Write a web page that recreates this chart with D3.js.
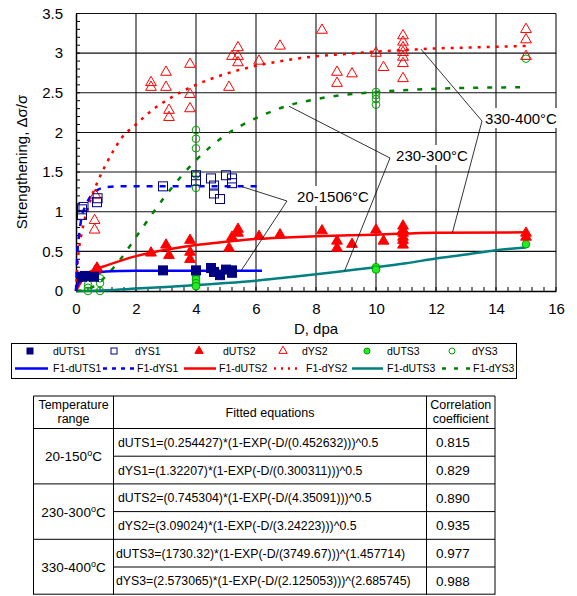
<!DOCTYPE html>
<html>
<head>
<meta charset="utf-8">
<script src="https://cdn.jsdelivr.net/npm/d3@7"></script>
<style>
  body { margin: 0; background: #fff; }
  text { font-family: "Liberation Sans", Arial, sans-serif; }
</style>
</head>
<body>
<svg id="chart"></svg>
<script>
// Measured points [D, value]
const dUTS1 = [[0.2,0.18],[0.3,0.19],[0.6,0.18],[2.9,0.26],[4.0,0.26],[4.5,0.29],[4.6,0.24],[4.8,0.2],[5.0,0.27],[5.2,0.26],[5.2,0.23]];
const dYS1 = [[0.2,0.96],[0.2,1.03],[0.25,1.06],[0.7,1.12],[0.72,1.17],[2.9,1.32],[4.0,1.46],[4.0,1.39],[4.5,1.42],[4.6,1.33],[4.6,1.23],[4.8,1.16],[5.0,1.46],[5.2,1.42],[5.2,1.36]];
const dUTS2 = [[0.65,0.26],[0.7,0.29],[2.5,0.48],[3.0,0.58],[3.1,0.45],[3.8,0.64],[3.8,0.49],[3.8,0.4],[5.1,0.54],[5.2,0.68],[5.4,0.78],[5.4,0.73],[6.1,0.69],[6.8,0.71],[8.2,0.76],[8.7,0.63],[8.7,0.54],[9.2,0.59],[10.0,0.77],[10.25,0.63],[10.9,0.82],[10.9,0.77],[10.9,0.73],[10.9,0.68],[10.9,0.64],[10.9,0.58],[15.0,0.73],[15.0,0.68]];
const dYS2 = [[0.65,1.21],[0.62,0.89],[0.62,0.77],[2.5,2.63],[2.5,2.57],[3.0,2.76],[3.0,2.57],[3.1,2.28],[3.1,2.19],[3.8,2.86],[3.8,2.48],[3.8,2.3],[5.1,2.57],[5.2,2.96],[5.4,3.07],[5.4,2.96],[5.4,2.88],[6.1,2.9],[6.8,3.09],[8.2,3.29],[8.7,2.76],[8.7,2.62],[9.2,2.74],[10.0,3.0],[10.25,2.82],[10.9,3.22],[10.9,3.14],[10.9,3.07],[10.9,3.01],[10.9,2.95],[10.9,2.87],[10.9,2.68],[15.0,3.3],[15.0,3.17],[15.0,2.96]];
const dUTS3 = [[4,0.26],[4,0.2],[4,0.15],[4,0.1],[4,0.06],[10,0.3],[10,0.27],[15,0.59]];
const dYS3 = [[0.4,0.08],[0.4,0.04],[0.4,0.0],[0.8,0.16],[0.8,0.1],[0.8,0.0],[4,2.03],[4,1.92],[4,1.8],[4,1.47],[4,1.3],[10,2.51],[10,2.47],[10,2.42],[10,2.35],[15,2.93]];

// Fitted curves [D, value]
const fitUTS1 = [[0,0],[0.05,0.08],[0.1,0.11],[0.2,0.15],[0.3,0.18],[0.5,0.21],[0.7,0.23],[1,0.245],[1.5,0.252],[2,0.254],[6.2,0.254]];
const fitYS1 = [[0,0],[0.05,0.5],[0.1,0.7],[0.2,0.95],[0.3,1.06],[0.5,1.2],[0.7,1.27],[1,1.31],[1.5,1.32],[6.1,1.32]];
const fitUTS2 = [[0,0],[0.3,0.19],[0.7,0.28],[1,0.32],[2,0.44],[3,0.52],[4,0.58],[5,0.62],[6,0.655],[7,0.675],[8,0.69],[10,0.71],[12,0.735],[15,0.74]];
const fitYS2 = [[0,0],[0.05,0.35],[0.1,0.53],[0.2,0.75],[0.3,0.92],[0.5,1.17],[0.7,1.36],[1,1.6],[1.25,1.77],[1.5,1.92],[2,2.1],[2.5,2.27],[3,2.4],[3.5,2.51],[4,2.6],[5,2.74],[6,2.84],[7,2.91],[8,2.96],[9,2.99],[10,3.02],[11,3.04],[12,3.06],[13,3.07],[14,3.08],[15,3.09]];
const fitUTS3 = [[0,0],[1,0.01],[2,0.03],[3,0.05],[4,0.075],[5,0.1],[6,0.13],[7,0.17],[8,0.21],[9,0.255],[10,0.3],[11,0.35],[12,0.41],[13,0.46],[14,0.515],[15,0.55]];
const fitYS3 = [[0,0],[0.5,0.04],[1,0.19],[1.5,0.41],[2,0.68],[3,1.21],[4,1.65],[5,1.97],[6,2.18],[7,2.33],[8,2.42],[10,2.51],[12,2.55],[14.8,2.57]];

const xTicks = [0, 2, 4, 6, 8, 10, 12, 14, 16];
const yTicks = [0, 0.5, 1, 1.5, 2, 2.5, 3, 3.5];

const tempRanges = ["20-150", "230-300", "330-400"];
const equations = [
  "dUTS1=(0.254427)*(1-EXP(-D/(0.452632)))^0.5",
  "dYS1=(1.32207)*(1-EXP(-D/(0.300311)))^0.5",
  "dUTS2=(0.745304)*(1-EXP(-D/(4.35091)))^0.5",
  "dYS2=(3.09024)*(1-EXP(-D/(3.24223)))^0.5",
  "dUTS3=(1730.32)*(1-EXP(-D/(3749.67)))^(1.457714)",
  "dYS3=(2.573065)*(1-EXP(-D/(2.125053)))^(2.685745)"
];
const coefficients = ["0.815", "0.829", "0.890", "0.935", "0.977", "0.988"];

const width = 577, height = 596;
const svg = d3.select("#chart").attr("width", width).attr("height", height);

const x = d3.scaleLinear().domain([0, 16]).range([76, 556]);
const y = d3.scaleLinear().domain([0, 3.5]).range([291, 13.5]);

// Grid
const grid = svg.append("g").attr("stroke", "#111").attr("stroke-width", 1.1);
grid.selectAll(".gx").data(xTicks.slice(1)).join("line")
  .attr("x1", d => x(d)).attr("x2", d => x(d))
  .attr("y1", y(0)).attr("y2", y(3.5));
grid.selectAll(".gy").data(yTicks.slice(1)).join("line")
  .attr("x1", x(0)).attr("x2", x(16))
  .attr("y1", d => y(d)).attr("y2", d => y(d));

// Axes
const xAxis = d3.axisBottom(x).tickValues(xTicks).tickSize(0).tickPadding(12);
const yAxis = d3.axisLeft(y).tickValues(yTicks).tickSize(0).tickPadding(13).tickFormat(d3.format("~g"));
const gx = svg.append("g").attr("transform", `translate(0,${y(0)})`).call(xAxis);
const gy = svg.append("g").attr("transform", `translate(${x(0)},0)`).call(yAxis);
[gx, gy].forEach(g => {
  g.select(".domain").attr("stroke", "#000").attr("stroke-width", 1.5);
  g.selectAll("text").attr("font-size", 15).attr("fill", "#000")
    .style("font-family", "Liberation Sans, Arial, sans-serif");
});
// inner minor ticks
svg.append("g").selectAll("line").data(d3.range(0, 16.01, 0.4)).join("line")
  .attr("x1", d => x(d)).attr("x2", d => x(d))
  .attr("y1", y(0)).attr("y2", y(0) - 4).attr("stroke", "#000");
svg.append("g").selectAll("line").data(d3.range(0, 3.51, 0.1)).join("line")
  .attr("y1", d => y(d)).attr("y2", d => y(d))
  .attr("x1", x(0)).attr("x2", x(0) + 4).attr("stroke", "#000");

// Axis titles
svg.append("text").attr("x", 316).attr("y", 334).attr("text-anchor", "middle")
  .attr("font-size", 15).text("D, dpa");
svg.append("text").attr("transform", "translate(27,162) rotate(-90)")
  .attr("text-anchor", "middle").attr("font-size", 15).text("Strengthening, Δσ/σ");

// Fit lines
const line = d3.line().x(d => x(d[0])).y(d => y(d[1])).curve(d3.curveMonotoneX);
const fits = [
  { data: fitUTS3, color: "#008080", width: 2.5, dash: null },
  { data: fitYS3, color: "#008000", width: 2.5, dash: "5,9" },
  { data: fitYS2, color: "#ff0000", width: 2.5, dash: "3,6" },
  { data: fitYS1, color: "#0000ff", width: 2.5, dash: "6,7" },
  { data: fitUTS2, color: "#ff0000", width: 2.5, dash: null },
  { data: fitUTS1, color: "#0000ff", width: 2.5, dash: null }
];
svg.append("g").selectAll("path").data(fits).join("path")
  .attr("d", d => line(d.data))
  .attr("fill", "none")
  .attr("stroke", d => d.color)
  .attr("stroke-width", d => d.width)
  .attr("stroke-dasharray", d => d.dash);

// Markers
const triangle = d3.symbol().type(d3.symbolTriangle).size(50);
function squares(data, filled) {
  svg.append("g").selectAll("rect").data(data).join("rect")
    .attr("x", d => x(d[0]) - 4.5).attr("y", d => y(d[1]) - 4.5)
    .attr("width", 9).attr("height", 9)
    .attr("fill", filled ? "#000080" : "none")
    .attr("stroke", "#000080").attr("stroke-width", 1);
}
function triangles(data, filled) {
  svg.append("g").selectAll("path").data(data).join("path")
    .attr("d", triangle)
    .attr("transform", d => `translate(${x(d[0])},${y(d[1])})`)
    .attr("fill", filled ? "#ff0000" : "none")
    .attr("stroke", "#ff0000").attr("stroke-width", 1);
}
function circles(data, filled) {
  svg.append("g").selectAll("circle").data(data).join("circle")
    .attr("cx", d => x(d[0])).attr("cy", d => y(d[1])).attr("r", 3.8)
    .attr("fill", filled ? "#22ee22" : "none")
    .attr("stroke", "#00a000").attr("stroke-width", 1);
}
circles(dYS3, false);
triangles(dYS2, false);
squares(dYS1, false);
circles(dUTS3, true);
triangles(dUTS2, true);
squares(dUTS1, true);

// Annotations
const notes = [
  { label: "20-1506°C", cx: 333, cy: 196, w: 76, lines: [[287, 201, x(5.5), y(1.32)], [287, 201, x(5.5), y(0.254)]] },
  { label: "230-300°C", cx: 432, cy: 155, w: 76, lines: [[390, 158, x(7.1), y(2.33)], [390, 158, x(8.95), y(0.25)]] },
  { label: "330-400°C", cx: 521, cy: 118, w: 76, lines: [[482, 121, x(11.5), y(3.05)], [482, 121, x(12.55), y(0.74)]] }
];
notes.forEach(n => {
  const g = svg.append("g");
  g.selectAll("line").data(n.lines).join("line")
    .attr("x1", d => d[0]).attr("y1", d => d[1])
    .attr("x2", d => d[2]).attr("y2", d => d[3])
    .attr("stroke", "#000").attr("stroke-width", 0.8);
  g.append("rect").attr("x", n.cx - n.w / 2).attr("y", n.cy - 10)
    .attr("width", n.w).attr("height", 20).attr("fill", "#fff");
  g.append("text").attr("x", n.cx).attr("y", n.cy + 5.5)
    .attr("text-anchor", "middle").attr("font-size", 15).text(n.label);
});

// Legend
const legend = svg.append("g");
legend.append("rect").attr("x", 11.5).attr("y", 343.5).attr("width", 505).attr("height", 35)
  .attr("fill", "#fff").attr("stroke", "#000");
const markerItems = [
  { name: "dUTS1", mx: 30, tx: 53, kind: "sq", filled: true },
  { name: "dYS1", mx: 114, tx: 135, kind: "sq", filled: false },
  { name: "dUTS2", mx: 199, tx: 223, kind: "tri", filled: true },
  { name: "dYS2", mx: 283, tx: 302, kind: "tri", filled: false },
  { name: "dUTS3", mx: 367, tx: 387, kind: "circ", filled: true },
  { name: "dYS3", mx: 452, tx: 472, kind: "circ", filled: false }
];
markerItems.forEach(m => {
  const cy = 351;
  if (m.kind === "sq") {
    legend.append("rect").attr("x", m.mx - 3).attr("y", cy - 3).attr("width", 6).attr("height", 6)
      .attr("fill", m.filled ? "#000080" : "none").attr("stroke", "#000080");
  } else if (m.kind === "tri") {
    legend.append("path").attr("d", d3.symbol().type(d3.symbolTriangle).size(30)())
      .attr("transform", `translate(${m.mx},${cy})`)
      .attr("fill", m.filled ? "#ff0000" : "none").attr("stroke", "#ff0000");
  } else {
    legend.append("circle").attr("cx", m.mx).attr("cy", cy).attr("r", 3)
      .attr("fill", m.filled ? "#22ee22" : "none").attr("stroke", "#00a000");
  }
  legend.append("text").attr("x", m.tx).attr("y", cy + 3.5).attr("font-size", 10.5).text(m.name);
});
const lineItems = [
  { name: "F1-dUTS1", x1: 15, x2: 48, tx: 53, color: "#0000ff", dash: null },
  { name: "F1-dYS1", x1: 103, x2: 134, tx: 137, color: "#0000ff", dash: "4,5" },
  { name: "F1-dUTS2", x1: 184, x2: 216, tx: 219, color: "#ff0000", dash: null },
  { name: "F1-dYS2", x1: 274, x2: 302, tx: 306, color: "#ff0000", dash: "2,5" },
  { name: "F1-dUTS3", x1: 352, x2: 383, tx: 387, color: "#008080", dash: null },
  { name: "F1-dYS3", x1: 442, x2: 471, tx: 473, color: "#008000", dash: "4,8" }
];
lineItems.forEach(l => {
  const cy = 368.5;
  legend.append("line").attr("x1", l.x1).attr("x2", l.x2).attr("y1", cy).attr("y2", cy)
    .attr("stroke", l.color).attr("stroke-width", 2.5).attr("stroke-dasharray", l.dash);
  legend.append("text").attr("x", l.tx).attr("y", cy + 3.5).attr("font-size", 10.5).text(l.name);
});

// Table
const table = svg.append("g");
const colX = [33.5, 113.5, 426.5, 495];
const headTop = 396, headBottom = 428.5, rowH = 27.7;
const rowY = i => headBottom + i * rowH;
const border = (x1, y1, x2, y2) => table.append("line")
  .attr("x1", x1).attr("y1", y1).attr("x2", x2).attr("y2", y2)
  .attr("stroke", "#000").attr("stroke-width", 1);
colX.forEach(cx => border(cx, headTop, cx, rowY(6)));
border(colX[0], headTop, colX[3], headTop);
border(colX[0], rowY(6) - 0.5, colX[3], rowY(6) - 0.5);
for (let i = 0; i < 6; i++) {
  border(i % 2 === 0 ? colX[0] : colX[1], rowY(i), colX[3], rowY(i));
}
const headerText = (cx, lines) => lines.forEach((t, i) =>
  table.append("text").attr("x", cx).attr("y", lines.length === 1 ? 417 : 409 + i * 14)
    .attr("text-anchor", "middle").attr("font-size", 12.5).text(t));
headerText((colX[0] + colX[1]) / 2, ["Temperature", "range"]);
headerText((colX[1] + colX[2]) / 2, ["Fitted equations"]);
headerText((colX[2] + colX[3]) / 2, ["Correlation", "coefficient"]);
tempRanges.forEach((t, i) => {
  const txt = table.append("text").attr("x", (colX[0] + colX[1]) / 2)
    .attr("y", rowY(2 * i + 1) + 5).attr("text-anchor", "middle").attr("font-size", 13.5);
  txt.append("tspan").text(t);
  txt.append("tspan").attr("dy", -5).attr("font-size", 9).text("o");
  txt.append("tspan").attr("dy", 5).text("C");
});
equations.forEach((e, i) => {
  table.append("text").attr("x", i >= 4 ? 116 : 118).attr("y", rowY(i) + rowH / 2 + 4.5)
    .attr("font-size", 12.3).text(e);
});
coefficients.forEach((c, i) => {
  table.append("text").attr("x", 453).attr("y", rowY(i) + rowH / 2 + 5)
    .attr("text-anchor", "middle").attr("font-size", 13.5).text(c);
});
</script>
</body>
</html>
